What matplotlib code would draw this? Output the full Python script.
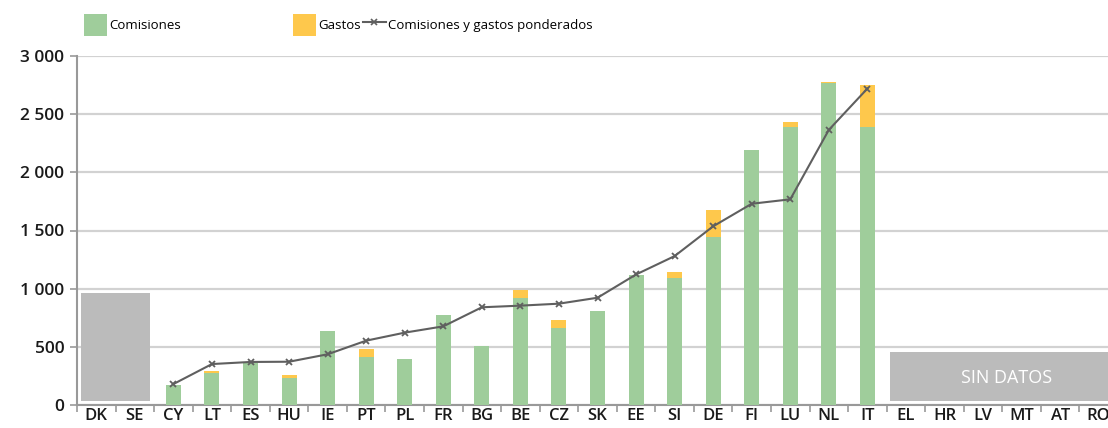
import matplotlib
matplotlib.use("Agg")
import matplotlib.pyplot as plt
from matplotlib.patches import Rectangle
from matplotlib.lines import Line2D
from matplotlib.ticker import FuncFormatter, FixedLocator
import numpy as np

countries = ["DK", "SE", "CY", "LT", "ES", "HU", "IE", "PT", "PL", "FR", "BG", "BE", "CZ",
             "SK", "EE", "SI", "DE", "FI", "LU", "NL", "IT", "EL", "HR", "LV", "MT", "AT", "RO"]
comisiones = [None, None, 175, 278, 364, 229, 636, 415, 393, 776, 507, 922, 659,
              808, 1120, 1088, 1444, 2191, 2390, 2765, 2390, None, None, None, None, None, None]
gastos = [None, None, 0, 17, 0, 29, 0, 69, 0, 0, 0, 67, 72,
          0, 0, 59, 232, 0, 45, 15, 360, None, None, None, None, None, None]
ponderados = [None, None, 180, 352, 370, 372, 436, 553, 622, 676, 840, 854, 871,
              922, 1122, 1280, 1536, 1730, 1768, 2365, 2720, None, None, None, None, None, None]
yticks = [0, 500, 1000, 1500, 2000, 2500, 3000]

GREEN = "#9fcd9b"
YELLOW = "#fec84c"
GREYBOX = "#bbbbbb"
LINEC = "#5f5f5f"
FONT = ["Open Sans", "DejaVu Sans"]

fig = plt.figure(figsize=(11.08, 4.28), dpi=100)
W, H = 1108, 428
ax = fig.add_axes([77 / W, (H - 405) / H, (1118 - 77) / W, 349 / H])

x = np.arange(len(countries))
idx = [i for i, v in enumerate(comisiones) if v is not None]
cv = np.array([comisiones[i] for i in idx], dtype=float)
gv = np.array([gastos[i] for i in idx], dtype=float)
pv = np.array([ponderados[i] for i in idx], dtype=float)
xi = np.array(idx)

ax.bar(xi, cv, width=0.39, color=GREEN, zorder=3, linewidth=0)
ax.bar(xi, gv, width=0.39, bottom=cv, color=YELLOW, zorder=3, linewidth=0)
ax.plot(xi, pv, color=LINEC, lw=1.5, marker="x", ms=5, mew=1.3, zorder=4)

# no-data boxes
ax.add_patch(Rectangle((-0.39, 35), 1.78, 925, facecolor=GREYBOX, edgecolor="none", zorder=3))
ax.add_patch(Rectangle((20.58, 37), 7.0, 421, facecolor=GREYBOX, edgecolor="none", zorder=3))
ax.text(23.6, 230, "SIN DATOS", color="white", fontsize=13, ha="center", va="center",
        family=FONT, zorder=5)

ax.set_xlim(-0.5, len(countries) - 0.5)
ax.set_ylim(0, 3000)
ax.set_yticks(yticks)
ax.yaxis.set_major_formatter(FuncFormatter(lambda v, p: f"{int(v):,}".replace(",", " ")))
ax.grid(axis="y", color="#d2d2d2", lw=1.6, zorder=0)
ax.set_axisbelow(True)

ax.set_xticks(x)
ax.set_xticklabels(countries)
ax.xaxis.set_minor_locator(FixedLocator(np.arange(-0.5, len(countries), 1.0)))
ax.tick_params(axis="x", which="major", length=0, pad=2.5, labelsize=12, labelcolor="#1a1a1a")
ax.tick_params(axis="x", which="minor", length=5, color="#999999", width=1.2)
ax.tick_params(axis="y", length=5, color="#999999", width=1.2, labelsize=12.5, labelcolor="#1a1a1a", pad=4)
for lab in ax.get_xticklabels() + ax.get_yticklabels():
    lab.set_family(FONT)
    lab.set_fontweight("semibold")

for s in ["top", "right"]:
    ax.spines[s].set_visible(False)
ax.spines["left"].set_color("#999999")
ax.spines["left"].set_linewidth(1.5)
ax.spines["bottom"].set_color("#999999")
ax.spines["bottom"].set_linewidth(1.5)

# legend
handles = [Rectangle((0, 0), 1, 1, facecolor=GREEN, edgecolor="none"),
           Rectangle((0, 0), 1, 1, facecolor=YELLOW, edgecolor="none"),
           Line2D([], [], color=LINEC, lw=1.5, marker="x", ms=4, mew=1.2)]
labels = ["Comisiones", "Gastos", "Comisiones y gastos ponderados"]
fig.legend(handles[:1], labels[:1], loc="center left", bbox_to_anchor=(72 / W, 1 - 25 / H),
           frameon=False, handlelength=1.75, handleheight=2.1, handletextpad=0.2,
           prop={"family": FONT, "size": 9.5})
fig.legend(handles[1:], labels[1:], loc="center left", bbox_to_anchor=(281 / W, 1 - 25 / H),
           frameon=False, ncol=2, handlelength=1.75, handleheight=2.1, handletextpad=0.2,
           columnspacing=0.1, prop={"family": FONT, "size": 9.5})

fig.savefig("out.png", dpi=100)
